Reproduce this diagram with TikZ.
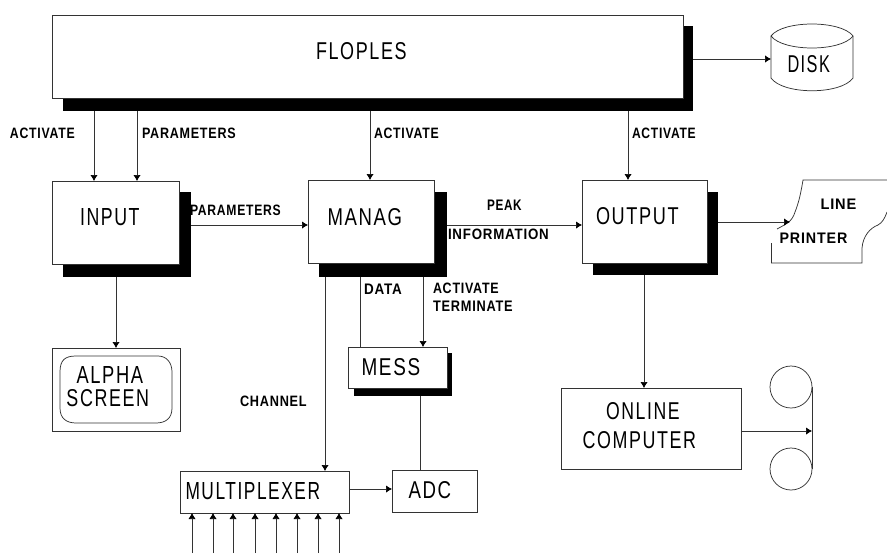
\documentclass[tikz,border=0pt]{standalone}
\usepackage{graphicx}
\usepackage{fontspec}
\setmainfont{Liberation Sans}
\usetikzlibrary{arrows.meta}
\newfontfamily\bigfont[LetterSpace=9]{Liberation Sans}
\newfontfamily\smallfont[LetterSpace=6]{Liberation Sans Bold}
\newlength{\pxu}\setlength{\pxu}{0.75pt}
% labels: width and cap height in px
\newcommand{\biglab}[2]{\resizebox{#1\pxu}{17\pxu}{\bigfont #2\kern-0.09em}}
\newcommand{\smlab}[2]{\resizebox{#1\pxu}{10.5\pxu}{\smallfont #2\kern-0.06em}}
\tikzset{
  linecol/.style={draw=black!80, line width=0.55pt},
  plainbox/.style={linecol, fill=white, rectangle, inner sep=0pt, outer sep=0pt},
  shadowbox/.style={fill=black, draw=none, rectangle, inner sep=0pt, outer sep=0pt},
  ghost/.style={draw=none, fill=none, rectangle, inner sep=0pt, outer sep=0pt},
  txt/.style={inner sep=0pt, outer sep=0pt, text=black},
  conn/.style={linecol},
  arr/.style={linecol, -{Latex[length=4.5pt,width=5.5pt,black]}}
}
% \bx{style}{name}{x1}{y1}{x2}{y2}
\newcommand{\bx}[6]{%
  \pgfmathsetlengthmacro{\bw}{((#5)-(#3))*0.75pt}%
  \pgfmathsetlengthmacro{\bh}{((#6)-(#4))*0.75pt}%
  \node[#1, minimum width=\bw, minimum height=\bh] (#2) at ({((#3)+(#5))/2},{((#4)+(#6))/2}) {};%
}
\begin{document}
\begin{tikzpicture}[x=0.75pt,y=-0.75pt]
\useasboundingbox (0,0) rectangle (887,553);
\fill[white] (0,0) rectangle (887,553);

% x positions of vertical connectors
\coordinate (xa) at (94,0);
\coordinate (xb) at (137,0);
\coordinate (xc) at (370,0);
\coordinate (xd) at (628,0);
\coordinate (xe) at (116,0);
\coordinate (xf) at (325,0);
\coordinate (xg) at (360,0);
\coordinate (xh) at (423,0);
\coordinate (xi) at (420,0);
\coordinate (xj) at (644,0);
% y positions of horizontal connectors
\coordinate (ya) at (0,59);
\coordinate (yb) at (0,225);
\coordinate (yc) at (0,222);
\coordinate (yd) at (0,489);
\coordinate (ye) at (0,431);

% shadows
\bx{shadowbox}{fs}{63}{26}{693}{111}
\bx{shadowbox}{is}{63}{192}{191}{277}
\bx{shadowbox}{ms}{319}{192}{447}{277}
\bx{shadowbox}{os}{593}{192}{718}{275}
\bx{shadowbox}{es}{354}{353}{452}{396}

% boxes
\bx{plainbox}{flop}{52}{15}{683}{98}
\bx{plainbox}{input}{52}{181}{179}{264}
\bx{plainbox}{manag}{308}{180}{434}{263}
\bx{plainbox}{output}{582}{180}{707}{263}
\bx{plainbox}{mess}{348}{347}{447}{388}
\bx{plainbox}{mux}{180}{471}{349}{513}
\bx{plainbox}{adc}{392}{470}{477}{512}
\bx{plainbox}{alpha}{52}{348}{180}{431}
\bx{plainbox}{online}{561}{388}{741}{469}
\draw[linecol] (60,372) .. controls (60,360) and (65,356) .. (76,356) -- (158,356)
  .. controls (166,356) and (172,362) .. (172,372) -- (172,408)
  .. controls (172,418) and (166,423) .. (156,423) -- (76,423)
  .. controls (66,423) and (60,418) .. (60,408) -- cycle;

% disk
\bx{ghost}{diskb}{771}{24}{853}{90}
\draw[linecol] (771,36) .. controls (783,20) and (841,20) .. (853,36)
  -- (853,78) .. controls (841,95) and (783,95) .. (771,78) -- cycle;
\draw[linecol] (771,36) .. controls (783,52) and (841,52) .. (853,36);

% line printer
\bx{ghost}{lp}{771}{180}{887}{263}
\coordinate (lptip) at (790,222);
\draw[linecol] (777,229) .. controls (786,224) and (792,222) .. (795,212)
  .. controls (799,202) and (801,192) .. (803,180) -- (887,180);
\draw[linecol] (771,263) -- (771,243);
\draw[linecol] (771,263) -- (862,263) -- (862,248)
  .. controls (863,236) and (870,228) .. (878,225) .. controls (882,223) and (885,218) .. (887,212);

% tape
\node[draw=black!80, line width=0.55pt, circle, inner sep=0pt, outer sep=0pt, minimum size=31.5pt] (reela) at (791,387) {};
\node[draw=black!80, line width=0.55pt, circle, inner sep=0pt, outer sep=0pt, minimum size=31.5pt] (reelb) at (791,469) {};
\draw[conn] (reela.east) -- (reelb.east);

% connectors
\draw[arr] (fs.south -| xa) -- (input.north -| xa);
\draw[arr] (fs.south -| xb) -- (input.north -| xb);
\draw[arr] (fs.south -| xc) -- (manag.north -| xc);
\draw[arr] (fs.south -| xd) -- (output.north -| xd);
\draw[arr] (fs.east |- ya) -- (diskb.west |- ya);
\draw[arr] (is.east |- yb) -- (manag.west |- yb);
\draw[arr] (ms.east |- yb) -- (output.west |- yb);
\draw[arr] (os.east |- yc) -- (lptip);
\draw[arr] (is.south -| xe) -- (alpha.north -| xe);
\draw[arr] (ms.south -| xf) -- (mux.north -| xf);
\draw[conn] (ms.south -| xg) -- (mess.north -| xg);
\draw[arr] (ms.south -| xh) -- (mess.north -| xh);
\draw[conn] (es.south -| xi) -- (adc.north -| xi);
\draw[arr] (mux.east |- yd) -- (adc.west |- yd);
\draw[arr] (os.south -| xj) -- (online.north -| xj);
\draw[arr] (online.east |- ye) -- (reela.east |- ye);

% multiplexer inputs
\foreach \i/\xx in {1/192,2/213,3/233,4/255,5/276,6/297,7/318,8/339}{
  \coordinate (in\i) at (\xx,553);
  \draw[arr] (in\i) -- (mux.south -| in\i);
}

% big labels
\node[txt] (tflop) at (360.5,51) {\biglab{89}{FLOPLES}};
\node[txt] (tinput) at (109,217) {\biglab{58}{INPUT}};
\node[txt] (tmanag) at (364,217) {\biglab{73}{MANAG}};
\node[txt] (toutput) at (636.5,216) {\biglab{81}{OUTPUT}};
\node[txt] (tmess) at (390,367) {\biglab{57}{MESS}};
\node[txt] (tmux) at (252,491) {\biglab{133}{MULTIPLEXER}};
\node[txt] (tadc) at (429,490) {\biglab{41}{ADC}};
\node[txt] (talpha) at (109,375) {\biglab{65}{ALPHA}};
\node[txt] (tscreen) at (107,398) {\biglab{81}{SCREEN}};
\node[txt] (tonline) at (642,411) {\biglab{72}{ONLINE}};
\node[txt] (tcomp) at (638.5,440) {\biglab{112}{COMPUTER}};
\node[txt] (disk) at (808,64) {\biglab{41}{DISK}};

% small labels
\node[txt] (l1) at (42,133) {\smlab{64}{ACTIVATE}};
\node[txt] (l2) at (188.5,133) {\smlab{93}{PARAMETERS}};
\node[txt] (l3) at (406,133) {\smlab{64}{ACTIVATE}};
\node[txt] (l4) at (663.5,133) {\smlab{63}{ACTIVATE}};
\node[txt] (l5) at (235,210) {\smlab{90}{PARAMETERS}};
\node[txt] (l6) at (504,205) {\smlab{34}{PEAK}};
\node[txt] (l7) at (498,234) {\smlab{100}{INFORMATION}};
\node[txt] (l8) at (382.5,289) {\smlab{37}{DATA}};
\node[txt] (l9) at (465.5,288) {\smlab{65}{ACTIVATE}};
\node[txt] (l10) at (472.5,306) {\smlab{79}{TERMINATE}};
\node[txt] (l11) at (273,401) {\smlab{66}{CHANNEL}};
\node[txt] (l12) at (838,204) {\smlab{35}{LINE}};
\node[txt] (l13) at (813,238) {\smlab{67}{PRINTER}};
\end{tikzpicture}
\end{document}
